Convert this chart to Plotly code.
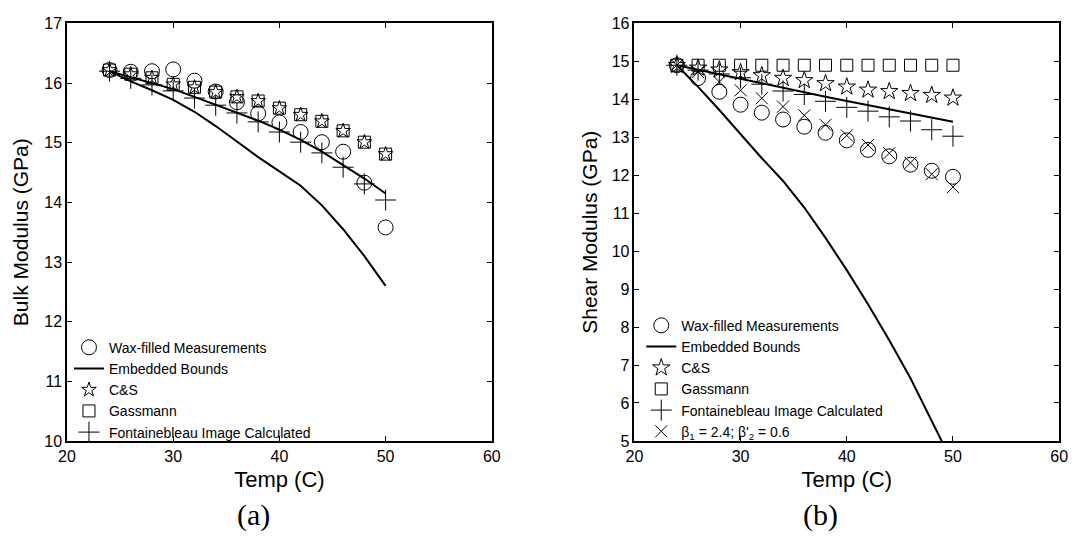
import plotly.graph_objects as go

# ---------------- data ----------------
temp = [24, 26, 28, 30, 32, 34, 36, 38, 40, 42, 44, 46, 48, 50]

# (a) Bulk modulus (GPa)
bulk_wax = [16.22, 16.19, 16.20, 16.23, 16.04, 15.86, 15.68, 15.49, 15.34, 15.18, 15.01, 14.85, 14.33, 13.58]
bulk_cs = [16.22, 16.15, 16.09, 15.98, 15.93, 15.85, 15.77, 15.70, 15.58, 15.47, 15.36, 15.20, 15.01, 14.81]
bulk_gassmann = [16.22, 16.15, 16.09, 15.98, 15.93, 15.85, 15.77, 15.70, 15.58, 15.47, 15.36, 15.20, 15.01, 14.81]
bulk_fontainebleau = [16.20, 16.08, 15.97, 15.87, 15.75, 15.63, 15.50, 15.35, 15.18, 15.01, 14.83, 14.59, 14.31, 14.04]
bulk_bound_upper = [16.20, 16.10, 16.00, 15.90, 15.77, 15.64, 15.51, 15.37, 15.22, 15.05, 14.85, 14.63, 14.40, 14.15]
bulk_bound_lower = [16.20, 16.03, 15.88, 15.72, 15.52, 15.28, 15.02, 14.76, 14.52, 14.28, 13.95, 13.55, 13.10, 12.60]

# (b) Shear modulus (GPa)
shear_wax = [14.90, 14.56, 14.20, 13.86, 13.65, 13.47, 13.28, 13.12, 12.92, 12.67, 12.50, 12.28, 12.12, 11.96]
shear_cs = [14.90, 14.83, 14.78, 14.71, 14.63, 14.56, 14.50, 14.42, 14.33, 14.25, 14.21, 14.16, 14.11, 14.04]
shear_gassmann = [14.90, 14.90, 14.90, 14.90, 14.90, 14.90, 14.90, 14.90, 14.90, 14.90, 14.90, 14.90, 14.90, 14.90]
shear_fontainebleau = [14.90, 14.77, 14.67, 14.57, 14.40, 14.22, 14.13, 13.95, 13.79, 13.69, 13.54, 13.43, 13.20, 13.03]
shear_beta = [14.90, 14.72, 14.46, 14.24, 14.03, 13.81, 13.58, 13.33, 13.05, 12.80, 12.58, 12.33, 12.03, 11.69]
shear_bound_upper = [14.90, 14.78, 14.66, 14.54, 14.42, 14.30, 14.18, 14.07, 13.96, 13.85, 13.74, 13.63, 13.52, 13.41]
shear_bound_lower = [14.90, 14.33, 13.72, 13.08, 12.45, 11.85, 11.15, 10.35, 9.50, 8.60, 7.65, 6.65, 5.55, 4.40]

x_ticks = [20, 30, 40, 50, 60]
bulk_ticks = [10, 11, 12, 13, 14, 15, 16, 17]
shear_ticks = [5, 6, 7, 8, 9, 10, 11, 12, 13, 14, 15, 16]

# ---------------- figure ----------------
W, H = 1078, 540
FONT = "Liberation Sans, Arial, sans-serif"
SERIF = "Liberation Serif, Times New Roman, serif"
fig = go.Figure()


def add(x, y, name, symbol, size, xa, ya, leg, show=True, mode="markers"):
    if mode == "markers":
        fig.add_trace(go.Scatter(
            x=x, y=y, mode="markers", name=name,
            marker=dict(symbol=symbol, size=size, color="black",
                        line=dict(color="black", width=1)),
            xaxis=xa, yaxis=ya, legend=leg, showlegend=show))
    else:
        fig.add_trace(go.Scatter(
            x=x, y=y, mode="lines", name=name,
            line=dict(color="black", width=2),
            xaxis=xa, yaxis=ya, legend=leg, showlegend=show))


# (a)
add(temp, bulk_wax, "Wax-filled Measurements", "circle-open", 15, "x", "y", "legend")
add(temp, bulk_bound_upper, "Embedded Bounds", None, 0, "x", "y", "legend", mode="lines")
add(temp, bulk_bound_lower, "Embedded Bounds", None, 0, "x", "y", "legend", show=False, mode="lines")
add(temp, bulk_cs, "C&S", "star-open", 11, "x", "y", "legend")
add(temp, bulk_gassmann, "Gassmann", "square-open", 12, "x", "y", "legend")
add(temp, bulk_fontainebleau, "Fontainebleau Image Calculated", "cross-thin-open", 15, "x", "y", "legend")

# (b)
add(temp, shear_wax, "Wax-filled Measurements", "circle-open", 15, "x2", "y2", "legend2")
add(temp, shear_bound_upper, "Embedded Bounds", None, 0, "x2", "y2", "legend2", mode="lines")
add(temp, shear_bound_lower, "Embedded Bounds", None, 0, "x2", "y2", "legend2", show=False, mode="lines")
add(temp, shear_cs, "C&S", "star-open", 13, "x2", "y2", "legend2")
add(temp, shear_gassmann, "Gassmann", "square-open", 12, "x2", "y2", "legend2")
add(temp, shear_fontainebleau, "Fontainebleau Image Calculated", "cross-thin-open", 15, "x2", "y2", "legend2")
add(temp, shear_beta, "β<sub>1</sub> = 2.4; β'<sub>2</sub> = 0.6", "x-thin-open", 12, "x2", "y2", "legend2")


def px_x(p):
    return p / W


def px_y(p):
    return 1 - p / H


axis_common = dict(
    showline=True, linecolor="black", linewidth=1.5, mirror="allticks",
    ticks="inside", ticklen=5, tickwidth=1, tickcolor="black",
    showgrid=False, zeroline=False,
    tickfont=dict(family=FONT, size=16, color="black"),
)

legend_common = dict(
    bgcolor="rgba(0,0,0,0)", borderwidth=0, tracegroupgap=0, itemwidth=30,
    font=dict(family=FONT, size=14, color="black"),
    xanchor="left", yanchor="bottom", itemclick=False,
)

xt = dict(family=FONT, size=22, color="black")
yt = dict(family=FONT, size=21, color="black")

fig.update_layout(
    width=W, height=H,
    margin=dict(l=0, r=0, t=0, b=0),
    paper_bgcolor="white", plot_bgcolor="white",
    font=dict(family=FONT, color="black"),
    xaxis=dict(domain=[px_x(59), px_x(491)], range=[20, 60], tickvals=x_ticks,
               anchor="y", title=dict(text="Temp (C)", standoff=8, font=xt), **axis_common),
    yaxis=dict(domain=[px_y(447), px_y(16)], range=[10, 17], tickvals=bulk_ticks,
               anchor="x", title=dict(text="Bulk Modulus (GPa)", standoff=10, font=yt), **axis_common),
    xaxis2=dict(domain=[px_x(636), px_x(1068)], range=[20, 60], tickvals=x_ticks,
                anchor="y2", title=dict(text="Temp (C)", standoff=8, font=xt), **axis_common),
    yaxis2=dict(domain=[px_y(447), px_y(16)], range=[5, 16], tickvals=shear_ticks,
                anchor="x2", title=dict(text="Shear Modulus (GPa)", standoff=8, font=yt), **axis_common),
    legend=dict(x=px_x(61), y=px_y(454), **legend_common),
    legend2=dict(x=px_x(643), y=px_y(454), **legend_common),
    showlegend=True,
    annotations=[
        dict(text="(a)", x=px_x(249), y=px_y(523), xref="paper", yref="paper",
             xanchor="center", yanchor="middle",
             showarrow=False, font=dict(family=SERIF, size=30, color="black")),
        dict(text="(b)", x=px_x(825), y=px_y(523), xref="paper", yref="paper",
             xanchor="center", yanchor="middle",
             showarrow=False, font=dict(family=SERIF, size=30, color="black")),
    ],
)

fig.write_html("out.html")
